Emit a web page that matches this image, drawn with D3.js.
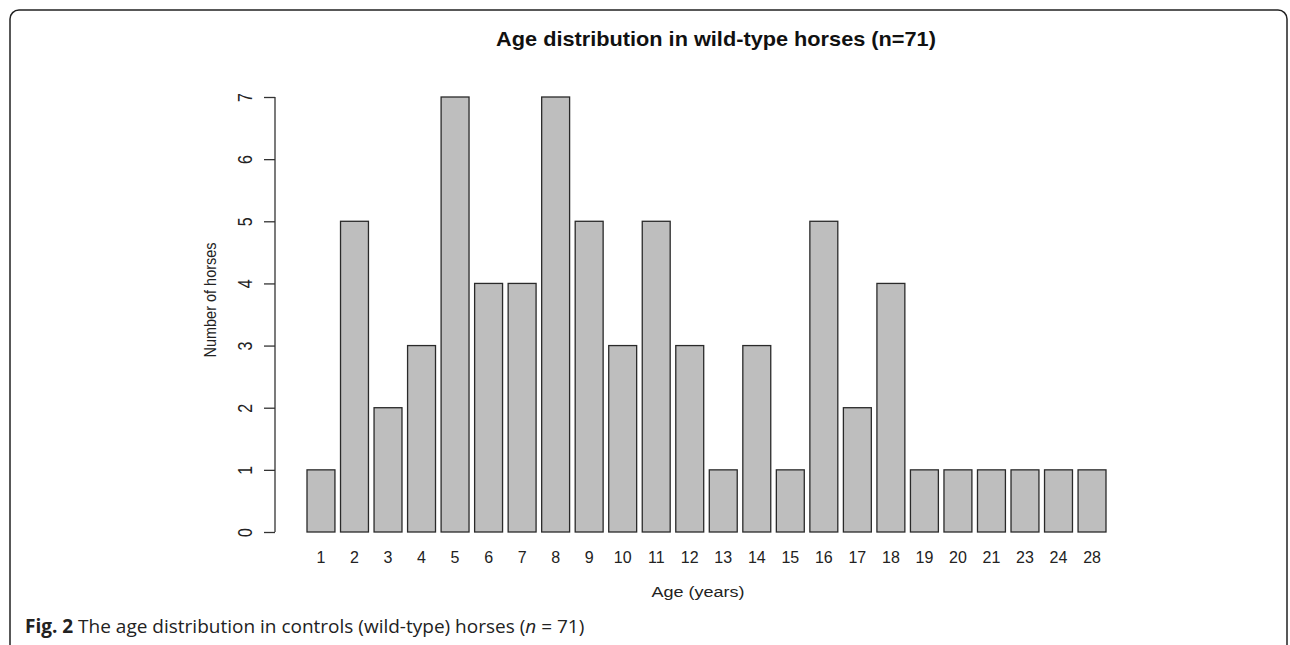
<!DOCTYPE html>
<html>
<head>
<meta charset="utf-8">
<script src="https://cdn.jsdelivr.net/npm/d3@7"></script>
<style>
  body { margin: 0; background: #fff; }
  svg { display: block; }
</style>
</head>
<body>
<div id="chart"></div>
<script>
// Age (years) categories and counts
var ages = ["1", "2", "3", "4", "5", "6", "7", "8", "9", "10", "11", "12", "13", "14", "15", "16", "17", "18", "19", "20", "21", "23", "24", "28"];
var counts = [1, 5, 2, 3, 7, 4, 4, 7, 5, 3, 5, 3, 1, 3, 1, 5, 2, 4, 1, 1, 1, 1, 1, 1];
var yTicks = [0, 1, 2, 3, 4, 5, 6, 7];

var width = 1290, height = 645;

var svg = d3.select("#chart")
    .append("svg")
    .attr("width", width)
    .attr("height", height);

// Rounded frame (bottom runs past the edge)
svg.append("rect")
    .attr("x", 10)
    .attr("y", 10)
    .attr("width", 1277)
    .attr("height", 660)
    .attr("rx", 9)
    .attr("fill", "none")
    .attr("stroke", "#222")
    .attr("stroke-width", 1.5);

var xScale = d3.scaleBand()
    .domain(ages)
    .range([307, 1106])
    .paddingInner(1 / 6)
    .paddingOuter(0);

var yScale = d3.scaleLinear()
    .domain([0, 7])
    .range([532, 97]);

var font = "'Liberation Sans', Arial, sans-serif";

// bars
svg.selectAll("rect.bar")
    .data(counts)
    .enter()
    .append("rect")
    .attr("class", "bar")
    .attr("x", function (d, i) { return xScale(ages[i]); })
    .attr("y", function (d) { return yScale(d); })
    .attr("width", xScale.bandwidth())
    .attr("height", function (d) { return yScale(0) - yScale(d); })
    .attr("fill", "#bebebe")
    .attr("stroke", "#2a2a2a")
    .attr("stroke-width", 1.3);

// y axis, R style (line only spans the ticks)
var yAxis = svg.append("g")
    .attr("transform", "translate(275,0)")
    .call(d3.axisLeft(yScale).tickValues(yTicks).tickFormat(d3.format("d")).tickSize(11).tickSizeOuter(0));

yAxis.select(".domain").remove();
yAxis.append("line")
    .attr("x1", 0).attr("x2", 0)
    .attr("y1", yScale(0)).attr("y2", yScale(7))
    .attr("stroke", "#333")
    .attr("stroke-width", 1.3);
yAxis.selectAll(".tick line").attr("stroke", "#333").attr("stroke-width", 1.3);
yAxis.selectAll(".tick text")
    .attr("x", null)
    .attr("dy", null)
    .attr("transform", "translate(-30,0) scale(1.3,1) rotate(-90)")
    .attr("text-anchor", "middle")
    .attr("dominant-baseline", "central")
    .style("font-family", font)
    .style("font-size", "16px")
    .attr("fill", "#222");

// x category labels
var xAxis = svg.append("g")
    .attr("transform", "translate(0,532)")
    .call(d3.axisBottom(xScale).tickSize(0));
xAxis.select(".domain").remove();
xAxis.selectAll(".tick text")
    .attr("y", 31)
    .attr("dy", null)
    .style("font-family", font)
    .style("font-size", "16px")
    .attr("fill", "#222");

// titles
svg.append("text")
    .attr("transform", "translate(716,46) scale(1.06,1)")
    .attr("text-anchor", "middle")
    .style("font-family", font)
    .style("font-size", "20.5px")
    .style("font-weight", "bold")
    .attr("fill", "#111")
    .text("Age distribution in wild-type horses (n=71)");

svg.append("text")
    .attr("transform", "translate(698,597) scale(1.2,1)")
    .attr("text-anchor", "middle")
    .style("font-family", font)
    .style("font-size", "15px")
    .attr("fill", "#222")
    .text("Age (years)");

svg.append("text")
    .attr("transform", "translate(210,300) scale(1.2,1) rotate(-90)")
    .attr("text-anchor", "middle")
    .attr("dominant-baseline", "central")
    .style("font-family", font)
    .style("font-size", "14.5px")
    .attr("fill", "#222")
    .text("Number of horses");

// caption
var caption = svg.append("text")
    .attr("x", 25)
    .attr("y", 633)
    .style("font-family", "'Open Sans', 'Noto Sans', sans-serif")
    .style("font-size", "19px")
    .attr("fill", "#222");
caption.append("tspan").style("font-weight", "bold").text("Fig. 2");
caption.append("tspan").text(" The age distribution in controls (wild-type) horses (");
caption.append("tspan").style("font-style", "italic").text("n");
caption.append("tspan").text(" = 71)");
</script>
</body>
</html>
